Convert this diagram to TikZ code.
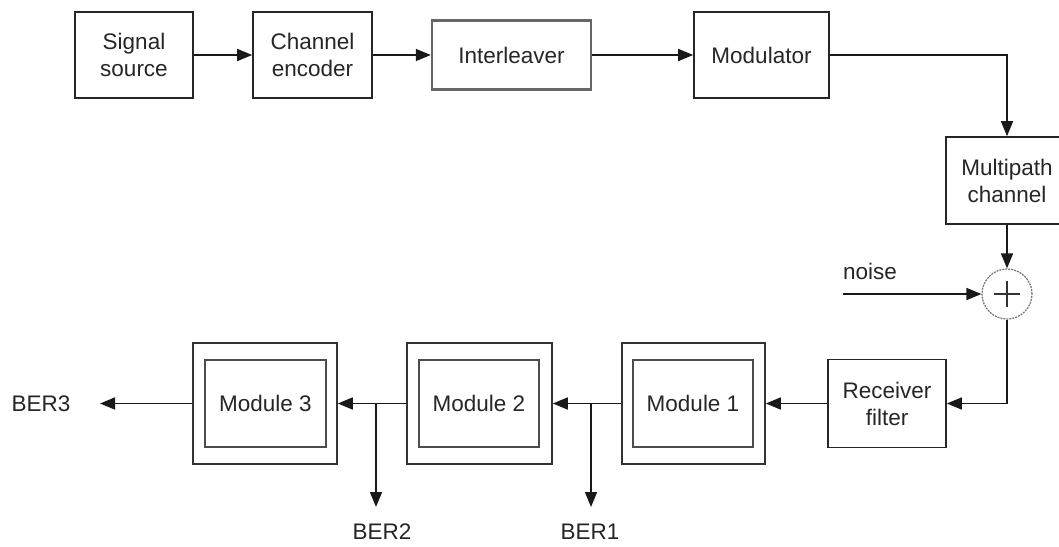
\documentclass[tikz,border=0pt]{standalone}
\usepackage{fontspec}
\setmainfont{Liberation Sans}
\usetikzlibrary{arrows.meta,positioning}
\begin{document}
\begin{tikzpicture}[x=1pt,y=-1pt,
  every node/.style={font=\fontsize{22.5}{27}\selectfont, text=black!85, align=center, inner sep=0pt},
  blk/.style={draw=black!85, line width=1.6pt, fill=white},
  grayblk/.style={draw=black!60, line width=2.4pt, fill=white},
  outerblk/.style={draw=black!80, line width=1.6pt, fill=white},
  innerblk/.style={draw=black!70, line width=2.2pt, fill=white},
  wire/.style={line width=1.6pt, draw=black!90},
  arr/.style={wire, -{Triangle[length=15pt,width=12pt]}},
  sumnode/.style={circle, draw=black!55, line width=1.2pt, dash pattern=on 2pt off 1pt, minimum size=50pt, fill=white}
]
\clip (0,0) rectangle (1059,546);
\fill[white] (0,0) rectangle (1059,546);

% transmitter chain
\node[blk, minimum width=118pt, minimum height=86pt] (src) at (134,55) {Signal\\source};
\node[blk, minimum width=119pt, minimum height=86pt] (enc) at (312.5,55) {Channel\\encoder};
\node[grayblk, minimum width=159pt, minimum height=69pt] (intl) at (511.5,55) {Interleaver};
\node[blk, minimum width=135pt, minimum height=86pt] (mod) at (761.5,55) {Modulator};
\node[blk, minimum width=122pt, minimum height=87pt] (mpc) at (1007,180.5) {Multipath\\channel};

% adder with noise input
\node[sumnode] (sum) at (1007,294) {};
\draw[line width=1.2pt, black!80] ([xshift=-13pt]sum.center) -- ([xshift=13pt]sum.center)
  ([yshift=-13pt]sum.center) -- ([yshift=13pt]sum.center);
\coordinate (nz) at (843,294);
\node[anchor=west] (nzlab) at (843,271) {noise};

% receiver chain
\node[blk, minimum width=118pt, minimum height=88pt] (rx) at (887,403.5) {Receiver\\filter};

\node[outerblk, minimum width=143pt, minimum height=121pt] (m1) at (693.5,403.5) {};
\node[innerblk, minimum width=120pt, minimum height=87pt] (m1in) at (693,403.5) {Module 1};
\node[outerblk, minimum width=145pt, minimum height=121pt] (m2) at (479.5,403.5) {};
\node[innerblk, minimum width=120pt, minimum height=87pt] (m2in) at (479,403.5) {Module 2};
\node[outerblk, minimum width=144pt, minimum height=121pt] (m3) at (265,403.5) {};
\node[innerblk, minimum width=121pt, minimum height=87pt] (m3in) at (265.5,403.5) {Module 3};

% outputs
\node (ber3) at (41,403.5) {BER3};
\node (ber2) at (382,532) {BER2};
\node (ber1) at (590,532) {BER1};
\coordinate (b3end) at (100,403.5);
\coordinate (b2top) at (376,403.5);
\coordinate (b2end) at (376,507);
\coordinate (b1top) at (591,403.5);
\coordinate (b1end) at (591,507);

% connections
\draw[arr] (src) -- (enc);
\draw[arr] (enc) -- (intl);
\draw[arr] (intl) -- (mod);
\draw[arr] (mod.east) -| (mpc.north);
\draw[arr] (mpc) -- (sum);
\draw[arr] (nz) -- (sum);
\draw[arr] (sum.south) |- (rx.east);
\draw[arr] (rx) -- (m1);
\draw[arr] (m1) -- (m2);
\draw[arr] (m2) -- (m3);
\draw[arr] (m3.west) -- (b3end);
\draw[arr] (b1top) -- (b1end);
\draw[arr] (b2top) -- (b2end);
\end{tikzpicture}
\end{document}
